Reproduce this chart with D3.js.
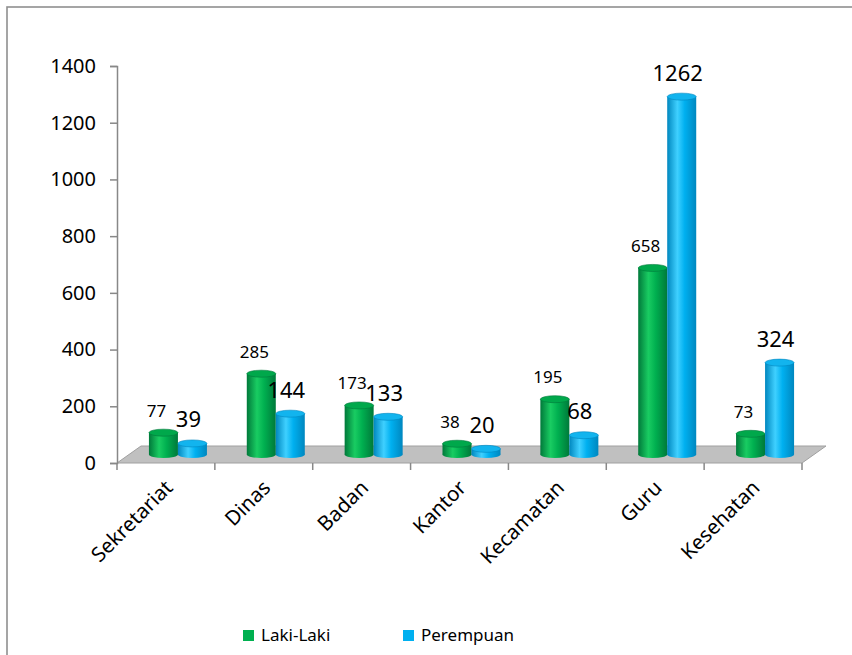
<!DOCTYPE html>
<html>
<head>
<meta charset="utf-8">
<script src="https://cdn.jsdelivr.net/npm/d3@7"></script>
<style>
  body { margin: 0; background: #fff; }
  text { font-family: "Noto Sans", "Open Sans", sans-serif; fill: #000; }
</style>
</head>
<body>
<svg id="chart" width="852" height="655"></svg>
<script>
const categories = ["Sekretariat", "Dinas", "Badan", "Kantor", "Kecamatan", "Guru", "Kesehatan"];
const lakiLaki = [77, 285, 173, 38, 195, 658, 73];
const perempuan = [39, 144, 133, 20, 68, 1262, 324];
const yTicks = [0, 200, 400, 600, 800, 1000, 1200, 1400];

const svg = d3.select("#chart");

// depth of the 3d floor
const depthX = 24, depthY = -17;
const midX = depthX / 2, midY = depthY / 2;

const x = d3.scaleBand().domain(categories).range([117, 802]);
const y = d3.scaleLinear().domain([0, 1400]).range([463, 66]);

const series = [
  { name: "Laki-Laki", values: lakiLaki, color: "#00b050", dark: "#00793a", light: "#19cc62", top: "#00a84b", size: 17 },
  { name: "Perempuan", values: perempuan, color: "#00b0f0", dark: "#0087bf", light: "#3fd0ff", top: "#12b4ee", size: 22 }
];

// outer frame
svg.append("rect")
  .attr("x", 7).attr("y", 7)
  .attr("width", 900).attr("height", 700)
  .attr("fill", "none")
  .attr("stroke", "#8f8f8f")
  .attr("stroke-width", 1.6);

const defs = svg.append("defs");
series.forEach((s, i) => {
  const g = defs.append("linearGradient")
    .attr("id", "grad" + i)
    .attr("x1", "0%").attr("x2", "100%").attr("y1", "0%").attr("y2", "0%");
  g.append("stop").attr("offset", "0%").attr("stop-color", s.dark);
  g.append("stop").attr("offset", "35%").attr("stop-color", s.light);
  g.append("stop").attr("offset", "60%").attr("stop-color", s.color);
  g.append("stop").attr("offset", "100%").attr("stop-color", s.dark);
});

// floor
const x0 = x.range()[0], x1 = x.range()[1], y0 = y(0);
svg.append("polygon")
  .attr("points", [[x0, y0], [x1, y0], [x1 + depthX, y0 + depthY], [x0 + depthX, y0 + depthY]].join(" "))
  .attr("fill", "#c0c0c0")
  .attr("stroke", "#a0a0a0")
  .attr("stroke-width", 1);

// y axis
const yAxis = svg.append("g")
  .attr("transform", `translate(${x0},0)`)
  .call(d3.axisLeft(y).tickValues(yTicks).tickSize(7).tickPadding(14).tickFormat(d3.format("d")));
yAxis.select(".domain").attr("stroke", "#888").attr("stroke-width", 1.5);
yAxis.selectAll(".tick line").attr("stroke", "#888").attr("stroke-width", 1.5);
yAxis.selectAll(".tick text")
  .attr("font-size", 20)
  .attr("font-family", "'Noto Sans', sans-serif")
  .attr("fill", "#000");

// x axis ticks at band edges
const edges = categories.map(c => x(c)).concat([x1]);
svg.append("g").selectAll("line")
  .data(edges)
  .join("line")
  .attr("x1", d => d).attr("x2", d => d)
  .attr("y1", y0).attr("y2", y0 + 7)
  .attr("stroke", "#888")
  .attr("stroke-width", 1.5);

// x labels
svg.append("g").selectAll("text")
  .data(categories)
  .join("text")
  .attr("transform", d => `translate(${x(d) + x.bandwidth() / 2 + 8},${y0 + 26}) rotate(-45)`)
  .attr("text-anchor", "end")
  .attr("font-size", 20.5)
  .text(d => d);

// cylinders
const cylW = 29, ry = 3.5;
const bars = svg.append("g");
categories.forEach((c, ci) => {
  const center = x(c) + x.bandwidth() / 2 + midX;
  series.forEach((s, si) => {
    const cx = center - cylW + si * cylW + cylW / 2;
    const base = y(0) + midY;
    const top = y(s.values[ci]) + midY;
    const g = bars.append("g");
    g.append("ellipse")
      .attr("cx", cx).attr("cy", base)
      .attr("rx", cylW / 2).attr("ry", ry)
      .attr("fill", `url(#grad${si})`);
    g.append("rect")
      .attr("x", cx - cylW / 2).attr("y", top)
      .attr("width", cylW).attr("height", base - top)
      .attr("fill", `url(#grad${si})`);
    g.append("ellipse")
      .attr("cx", cx).attr("cy", top)
      .attr("rx", cylW / 2).attr("ry", ry)
      .attr("fill", s.top)
      .attr("stroke", s.dark)
      .attr("stroke-width", 0.6);
  });
});

// value labels
categories.forEach((c, ci) => {
  const center = x(c) + x.bandwidth() / 2 + midX;
  series.forEach((s, si) => {
    const cx = center - cylW + si * cylW + cylW / 2;
    svg.append("text")
      .attr("x", cx - (si === 0 ? 7 : 4))
      .attr("y", y(s.values[ci]) + midY - 16)
      .attr("text-anchor", "middle")
      .attr("font-size", s.size)
      .text(s.values[ci]);
  });
});

// legend
const legend = svg.append("g");
const legendX = [243, 403];
series.forEach((s, i) => {
  legend.append("rect")
    .attr("x", legendX[i]).attr("y", 630)
    .attr("width", 11).attr("height", 11)
    .attr("fill", s.color);
  legend.append("text")
    .attr("x", legendX[i] + 18).attr("y", 641)
    .attr("font-size", 17)
    .text(s.name);
});
</script>
</body>
</html>
